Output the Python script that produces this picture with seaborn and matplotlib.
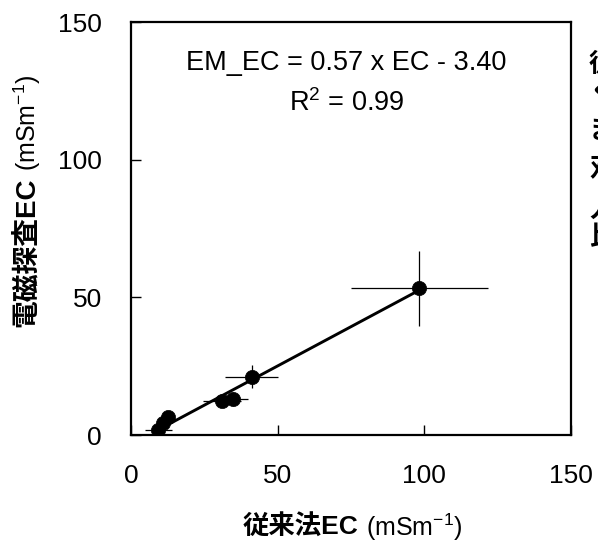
import numpy as np
import pandas as pd
import matplotlib
matplotlib.use("Agg")
import matplotlib.pyplot as plt
import seaborn as sns

# ── data ──
conv_ec = [9.3, 11.0, 12.7, 31.1, 34.9, 41.1, 98.3]      # 従来法EC
em_ec = [1.8, 4.3, 6.4, 12.5, 13.1, 21.2, 53.3]          # 電磁探査EC
conv_err = [4.5, 0.0, 2.0, 6.5, 5.0, 9.1, 23.4]
em_err = [1.0, 0.0, 1.0, 1.0, 2.5, 4.1, 13.7]
slope, intercept = 0.57, -3.40
ticks = [0, 50, 100, 150]
side_chars = ["従", "く", "ま", "双", "人", "比"]

sns.set_style("ticks")
plt.rcParams["font.family"] = ["Liberation Sans", "Noto Sans CJK JP", "DejaVu Sans"]
plt.rcParams["mathtext.fontset"] = "custom"
plt.rcParams["mathtext.rm"] = "Liberation Sans"
plt.rcParams["mathtext.it"] = "Liberation Sans"
plt.rcParams["text.color"] = "black"
plt.rcParams["axes.labelcolor"] = "black"

df = pd.DataFrame({"conv": conv_ec, "em": em_ec})

fig = plt.figure(figsize=(5.98, 5.45), dpi=100)
ax = fig.add_axes([0.2191, 0.2018, 0.7358, 0.7578])

ax.errorbar(conv_ec, em_ec, xerr=conv_err, yerr=em_err, fmt="none",
            ecolor="black", elinewidth=0.9, capsize=0, zorder=2)

xs = np.array([min(conv_ec), max(conv_ec)])
fit = pd.DataFrame({"x": xs, "y": slope * xs + intercept})
sns.lineplot(data=fit, x="x", y="y", color="black", linewidth=2.1, ax=ax, zorder=3)
sns.scatterplot(data=df, x="conv", y="em", color="black", s=105, edgecolor="black",
                linewidth=0.5, ax=ax, zorder=4, legend=False)

ax.set_xlim(0, 150)
ax.set_ylim(0, 150)
ax.set_xticks(ticks)
ax.set_yticks(ticks)
ax.tick_params(direction="in", length=7, width=1, labelsize=19, pad=21,
               colors="black", labelcolor="black")
for s in ax.spines.values():
    s.set_linewidth(1.6)
    s.set_color("black")
ax.set_xlabel("")
ax.set_ylabel("")

ax.text(73.5, 135, "EM_EC = 0.57 x EC - 3.40", ha="center", va="center", fontsize=19.5)
ax.text(73.5, 120.5, "R$^2$ = 0.99", ha="center", va="center", fontsize=19.5)

# axis labels: bold Japanese part + plain unit part
fig.text(358 / 598, 1 - 527 / 545, "従来法EC", ha="right", va="center",
         fontsize=19, fontweight="bold")
fig.text(366 / 598, 1 - 527 / 545, "(mSm$^{-1}$)", ha="left", va="center",
         fontsize=18)
fig.text(27 / 598, 1 - 327 / 545, "電磁探査EC", ha="center", va="bottom",
         rotation=90, fontsize=20, fontweight="bold")
fig.text(27 / 598, 1 - 171 / 545, "(mSm$^{-1}$)", ha="center", va="bottom",
         rotation=90, fontsize=18)

# vertical caption clipped at the right edge
ys = [65, 93, 131, 168, 210, 238]
for ch, yy in zip(side_chars, ys):
    fig.text(589 / 598, 1 - yy / 545, ch, ha="left", va="center",
             fontsize=19, fontweight="bold")

fig.savefig("out.png", dpi=100)
